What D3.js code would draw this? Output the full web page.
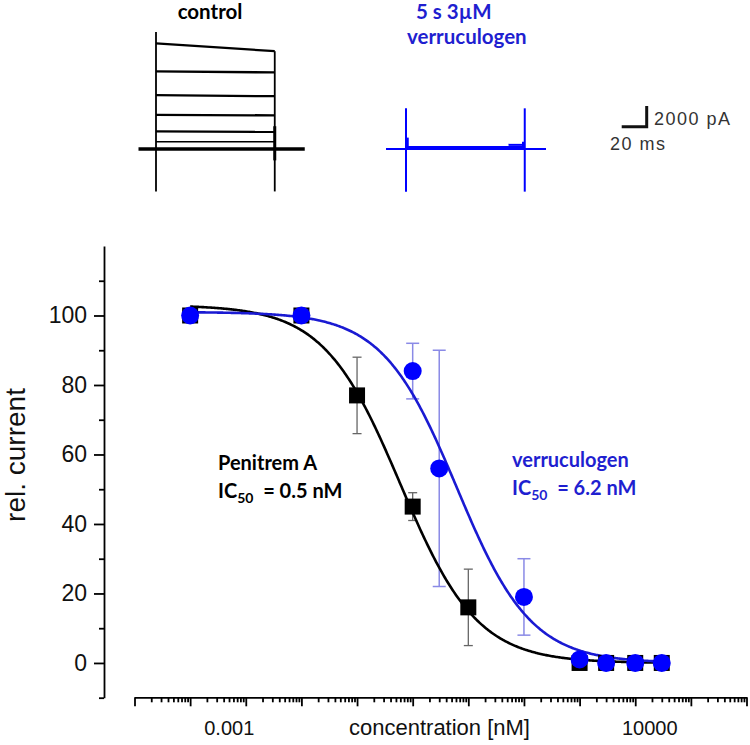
<!DOCTYPE html>
<html>
<head>
<meta charset="utf-8">
<script src="https://cdn.jsdelivr.net/npm/d3@7"></script>
<style>
  html, body { margin: 0; padding: 0; background: #fff; }
  svg { display: block; }
</style>
</head>
<body>
<svg id="chart" width="750" height="745"></svg>
<script>
// ---------- data ----------
const penitremConc = [0.0001, 0.01, 0.1, 1, 10, 1000, 3000, 10000, 30000];
const penitremValues = [100, 100, 77, 45, 16, 0, 0, 0, 0];
const penitremErr = [0, 0, 11, 4, 11, 0, 0, 0, 0];

const verruConc = [0.0001, 0.01, 1, 3, 100, 1000, 3000, 10000, 30000];
const verruValues = [100, 100, 84, 56, 19, 1, 0, 0, 0];
const verruErr = [0, 0, 8, 34, 11, 0, 0, 0, 0];

// fitted Hill curves: [top, bottom, IC50 (nM), hill slope]
const penitremFit = [103, 0, 0.6, 0.63];
const verruFit = [101, 0, 6.2, 0.65];
const curveRange = [0.0001, 30000];

const yMajorTicks = [0, 20, 40, 60, 80, 100];
const yMinorTicks = [-10, 10, 30, 50, 70, 90, 110];
const xLabelTicks = [0.001, 10000];
const xDecades = [1e-5, 1e-4, 1e-3, 1e-2, 1e-1, 1, 10, 100, 1e3, 1e4, 1e5, 1e6];

// current traces (pA) – control steps, start and end level of each sweep
const controlStart = [700, 1700, 3300, 5200, 7500, 10200];
const controlEnd = [700, 1650, 3250, 5100, 7400, 9450];
const pulseMs = [0, 95];
const controlBaseMs = [-14, 119];
const controlTransient = [11300, -4100];
const controlEndTransient = [9450, -4100];
const verruBaseMs = [-16, 112];
const verruLevel = 100;
const verruTransient = [3930, -4120];
const scaleBarMs = 20;
const scaleBarPA = 2000;

// ---------- layout ----------
const svg = d3.select("#chart");
const blue = "#0000ff";
const blueLine = "#1a1ad2";
const blueText = "#1f1fd0";
const blueErr = "#8a8ae6";
const axisFont = "'Liberation Sans', Arial, sans-serif";
const boldFont = "Lato, 'Open Sans', sans-serif";

const x = d3.scaleLog().domain([1e-5, 1e6]).range([134.5, 746.5]);
const y = d3.scaleLinear().domain([-10, 120]).range([697.7, 246]);

// ---------- axes ----------
const xAxisY = 697.3;
const minorX = [];
xDecades.slice(0, -1).forEach(d => { for (let m = 2; m <= 9; m++) minorX.push(d * m); });

const gx = svg.append("g").attr("transform", `translate(0,${xAxisY})`);
gx.call(d3.axisBottom(x).tickValues(xDecades).tickSize(9).tickSizeOuter(0).tickFormat(""));
gx.append("g").call(d3.axisBottom(x).tickValues(minorX).tickSize(5).tickFormat(""))
  .select(".domain").remove();
gx.selectAll("path, line").attr("stroke", "#000").attr("stroke-width", 1.8);

const gxl = svg.append("g").attr("transform", `translate(0,${xAxisY})`);
gxl.call(d3.axisBottom(x).tickValues(xLabelTicks).tickSize(0).tickPadding(23.5)
  .tickFormat(d => d < 1 ? "0.001" : "10000"));
gxl.select(".domain").remove();
gxl.selectAll("text").attr("font-family", axisFont).attr("font-size", 20).attr("fill", "#111")
  .attr("dx", d => d < 1 ? -17 : 14);

svg.append("text").attr("x", 439.5).attr("y", 735).attr("text-anchor", "middle")
  .attr("font-family", axisFont).attr("font-size", 22).attr("fill", "#111")
  .text("concentration [nM]");

const gy = svg.append("g").attr("transform", "translate(104,0)");
gy.call(d3.axisLeft(y).tickValues(yMajorTicks).tickSize(10).tickSizeOuter(0).tickPadding(7));
gy.append("g").call(d3.axisLeft(y).tickValues(yMinorTicks).tickSize(5).tickFormat(""))
  .select(".domain").remove();
gy.selectAll("path, line").attr("stroke", "#000").attr("stroke-width", 1.8);
gy.selectAll("text").attr("font-family", axisFont).attr("font-size", 23).attr("fill", "#111");

svg.append("text").attr("transform", "translate(25,455) rotate(-90)")
  .attr("text-anchor", "middle").attr("font-family", axisFont).attr("font-size", 28)
  .attr("fill", "#111").text("rel. current");

// ---------- fitted curves ----------
function hill(p, c) { return p[1] + (p[0] - p[1]) / (1 + Math.pow(c / p[2], p[3])); }
const logPts = d3.range(Math.log10(curveRange[0]), Math.log10(curveRange[1]) + 0.001, 0.02)
  .map(l => Math.pow(10, l));
const line = d3.line().x(d => x(d[0])).y(d => y(d[1])).curve(d3.curveMonotoneX);

// ---------- error bars ----------
function errorBars(conc, vals, errs, color, cap, width) {
  const g = svg.append("g").attr("stroke", color).attr("stroke-width", width);
  conc.forEach((c, i) => {
    if (!errs[i]) return;
    const cx = x(c), lo = y(vals[i] - errs[i]), hi = y(vals[i] + errs[i]);
    g.append("line").attr("x1", cx).attr("x2", cx).attr("y1", lo).attr("y2", hi);
    g.append("line").attr("x1", cx - cap / 2).attr("x2", cx + cap / 2).attr("y1", lo).attr("y2", lo);
    g.append("line").attr("x1", cx - cap / 2).attr("x2", cx + cap / 2).attr("y1", hi).attr("y2", hi);
  });
}
errorBars(penitremConc, penitremValues, penitremErr, "#666", 9, 1.3);
errorBars(verruConc, verruValues, verruErr, blueErr, 13, 1.5);

svg.append("path").datum(logPts.map(c => [c, hill(penitremFit, c)]))
  .attr("d", line).attr("fill", "none").attr("stroke", "#000").attr("stroke-width", 2.6);
svg.append("path").datum(logPts.map(c => [c, hill(verruFit, c)]))
  .attr("d", line).attr("fill", "none").attr("stroke", blueLine).attr("stroke-width", 2.6);

// ---------- markers ----------
const sq = 16;
svg.append("g").selectAll("rect").data(penitremConc.map((c, i) => [c, penitremValues[i]]))
  .join("rect").attr("x", d => x(d[0]) - sq / 2).attr("y", d => y(d[1]) - sq / 2)
  .attr("width", sq).attr("height", sq).attr("fill", "#000");
svg.append("g").selectAll("circle").data(verruConc.map((c, i) => [c, verruValues[i]]))
  .join("circle").attr("cx", d => x(d[0])).attr("cy", d => y(d[1])).attr("r", 9)
  .attr("fill", blue);

// ---------- annotations ----------
function icLabel(xp, yp, name, val, color) {
  svg.append("text").attr("x", xp).attr("y", yp).attr("font-family", boldFont)
    .attr("font-weight", 700).attr("font-size", 20).attr("fill", color).text(name);
  const t2 = svg.append("text").attr("x", xp).attr("y", yp + 27.5).attr("font-family", boldFont)
    .attr("font-weight", 700).attr("font-size", 20).attr("fill", color);
  t2.append("tspan").text("IC");
  t2.append("tspan").attr("font-size", 14).attr("dy", 5).text("50");
  t2.append("tspan").attr("dy", -5).text("\u00a0 = " + val);
}
icLabel(218, 470, "Penitrem A", "0.5 nM", "#000");
icLabel(512, 467, "verruculogen", "6.2 nM", blueText);

// ---------- current traces ----------
const ms = d3.scaleLinear().domain([0, 20]).range([0, 25]);
const pA = d3.scaleLinear().domain([0, 2000]).range([0, -20.7]);

const ctrl = svg.append("g").attr("transform", "translate(156,149)")
  .attr("stroke", "#000").attr("fill", "none");
ctrl.append("line").attr("x1", ms(controlBaseMs[0])).attr("x2", ms(controlBaseMs[1]))
  .attr("y1", 0).attr("y2", 0).attr("stroke-width", 3.4);
controlStart.forEach((s, i) => {
  ctrl.append("path").attr("stroke-width", i === 0 ? 1.4 : 2.3)
    .attr("d", d3.line()([[ms(pulseMs[0]), pA(s)], [ms(pulseMs[1]), pA(controlEnd[i])]]));
});
ctrl.append("line").attr("x1", ms(pulseMs[0])).attr("x2", ms(pulseMs[0]))
  .attr("y1", pA(controlTransient[0])).attr("y2", pA(controlTransient[1])).attr("stroke-width", 1.8);
ctrl.append("line").attr("x1", ms(pulseMs[1])).attr("x2", ms(pulseMs[1]))
  .attr("y1", pA(controlEndTransient[0])).attr("y2", pA(controlEndTransient[1])).attr("stroke-width", 1.8);
ctrl.append("line").attr("x1", ms(pulseMs[1])).attr("x2", ms(pulseMs[1]))
  .attr("y1", pA(2200)).attr("y2", pA(-1100)).attr("stroke-width", 3);

const vg = svg.append("g").attr("transform", "translate(406,149)")
  .attr("stroke", blue).attr("fill", "none");
vg.append("line").attr("x1", ms(verruBaseMs[0])).attr("x2", ms(verruBaseMs[1]))
  .attr("y1", 0).attr("y2", 0).attr("stroke-width", 2);
vg.append("line").attr("x1", ms(pulseMs[0])).attr("x2", ms(pulseMs[1]))
  .attr("y1", pA(verruLevel)).attr("y2", pA(verruLevel)).attr("stroke-width", 4);
vg.append("line").attr("x1", ms(pulseMs[0])).attr("x2", ms(pulseMs[0]))
  .attr("y1", pA(verruTransient[0])).attr("y2", pA(verruTransient[1])).attr("stroke-width", 2);
vg.append("line").attr("x1", ms(pulseMs[1])).attr("x2", ms(pulseMs[1]))
  .attr("y1", pA(verruTransient[0])).attr("y2", pA(verruTransient[1])).attr("stroke-width", 2);
vg.append("line").attr("x1", ms(pulseMs[0]) + 1.5).attr("x2", ms(pulseMs[0]) + 1.5)
  .attr("y1", pA(1100)).attr("y2", 0).attr("stroke-width", 2.5);
vg.append("line").attr("x1", ms(pulseMs[1]) - 1.5).attr("x2", ms(pulseMs[1]) - 1.5)
  .attr("y1", pA(700)).attr("y2", 0).attr("stroke-width", 2.5);
vg.append("line").attr("x1", ms(82)).attr("x2", ms(94)).attr("y1", pA(400)).attr("y2", pA(400))
  .attr("stroke-width", 2);

svg.append("text").attr("x", 210).attr("y", 18.5).attr("text-anchor", "middle")
  .attr("font-family", boldFont).attr("font-weight", 700).attr("font-size", 20.5)
  .attr("fill", "#000").text("control");
svg.append("text").attr("x", 416).attr("y", 18.5)
  .attr("font-family", boldFont).attr("font-weight", 700).attr("font-size", 20.5)
  .attr("fill", blueText).text("5 s 3\u00b5M");
svg.append("text").attr("x", 407).attr("y", 43.5)
  .attr("font-family", boldFont).attr("font-weight", 700).attr("font-size", 20.5)
  .attr("fill", blueText).text("verruculogen");

// scale bar
const sb = svg.append("g").attr("transform", "translate(646.7,126.7)");
sb.append("path").attr("fill", "none").attr("stroke", "#111").attr("stroke-width", 3)
  .attr("stroke-linejoin", "miter")
  .attr("d", d3.line()([[ms(-scaleBarMs), 0], [0, 0], [0, pA(scaleBarPA)]]));
svg.append("text").attr("x", 654).attr("y", 125).attr("font-family", axisFont)
  .attr("font-size", 18).attr("letter-spacing", 1.5).attr("fill", "#333").text("2000 pA");
svg.append("text").attr("x", 610).attr("y", 149.5).attr("font-family", axisFont)
  .attr("font-size", 18).attr("letter-spacing", 1.5).attr("fill", "#333").text("20 ms");
</script>
</body>
</html>
